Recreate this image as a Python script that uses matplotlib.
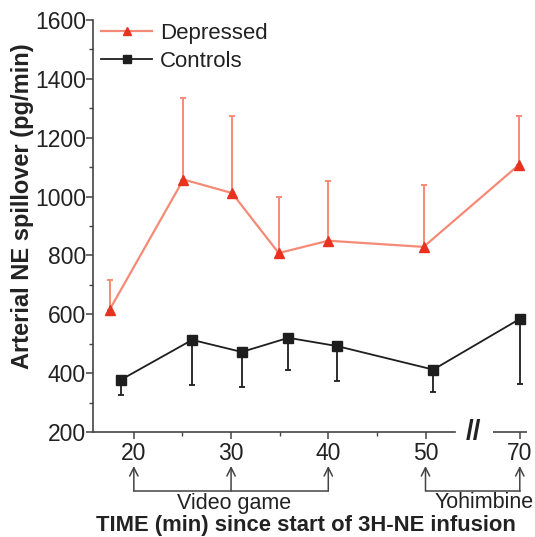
import numpy as np
import matplotlib
matplotlib.use("Agg")
import matplotlib.pyplot as plt
from matplotlib.ticker import MultipleLocator, FixedLocator

plt.rcParams['font.family'] = ['Liberation Sans', 'DejaVu Sans']

# ---- data ----
dep_time = [17.5, 25.1, 30.1, 34.9, 40.0, 49.8, 69.7]
dep_mean = [615, 1058, 1012, 808, 850, 829, 1107]
dep_upper = [717, 1335, 1274, 999, 1053, 1039, 1274]

ctl_time = [18.7, 26.0, 31.1, 35.9, 40.9, 50.8, 70.1]
ctl_mean = [378, 513, 472, 520, 492, 412, 585]
ctl_lower = [326, 360, 353, 411, 373, 336, 363]

xtick_major = [20, 30, 40, 50, 70]
xtick_minor = [25, 35, 45]
yticks = [200, 400, 600, 800, 1000, 1200, 1400, 1600]

# ---- broken axis scale ----
BRK = 53.0
K = 0.394

def fwd(x):
    x = np.asarray(x, dtype=float)
    return np.where(x <= BRK, x, BRK + (x - BRK) * K)

def inv(y):
    y = np.asarray(y, dtype=float)
    return np.where(y <= BRK, y, BRK + (y - BRK) / K)

DEP_LINE = '#f58a76'
DEP_MARK = '#e8311f'
CTL = '#1e1e1e'
AX = '#444444'
TXT = '#222222'

fig = plt.figure(figsize=(5.35, 5.37), dpi=100)
ax = fig.add_axes([93/535, 1-432/537, (528.6-93)/535, 412/537])
ax.set_xscale('function', functions=(fwd, inv))

dep_err = [np.zeros(len(dep_mean)), np.array(dep_upper) - np.array(dep_mean)]
ctl_err = [np.array(ctl_mean) - np.array(ctl_lower), np.zeros(len(ctl_mean))]

ax.errorbar(dep_time, dep_mean, yerr=dep_err, fmt='none', ecolor=DEP_LINE,
            elinewidth=1.4, capsize=2.5, capthick=1.4, zorder=2)
ax.plot(dep_time, dep_mean, color=DEP_LINE, lw=1.6, zorder=3)
ax.plot(dep_time, dep_mean, ls='none', marker='^', ms=7, color=DEP_MARK,
        mec=DEP_MARK, zorder=4)
ax.plot([], [], color=DEP_LINE, lw=1.6, marker='^', ms=6, mfc=DEP_MARK,
        mec=DEP_MARK, label='Depressed')

ax.errorbar(ctl_time, ctl_mean, yerr=ctl_err, fmt='none', ecolor=CTL,
            elinewidth=1.3, capsize=2.5, capthick=1.3, zorder=2)
ax.plot(ctl_time, ctl_mean, color=CTL, lw=1.3, marker='s', ms=6.5,
        mfc=CTL, mec=CTL, zorder=4)
ax.plot([], [], color=CTL, lw=1.3, marker='s', ms=5.5, mfc=CTL, mec=CTL,
        label='Controls')

ax.set_ylim(200, 1600)
ax.set_xlim(15.8, 72.3)
ax.yaxis.set_major_locator(FixedLocator(yticks))
ax.yaxis.set_minor_locator(MultipleLocator(100))
ax.xaxis.set_major_locator(FixedLocator(xtick_major))
ax.xaxis.set_minor_locator(FixedLocator(xtick_minor))

for s in ['top', 'right']:
    ax.spines[s].set_visible(False)
for s in ['left', 'bottom']:
    ax.spines[s].set_color(AX)
    ax.spines[s].set_linewidth(1.2)
ax.spines['bottom'].set_bounds(15.8, BRK)

ax.tick_params(axis='both', which='major', direction='out', length=5,
               width=1.1, color=AX, labelsize=16.5, labelcolor=TXT)
ax.tick_params(axis='both', which='minor', direction='out', length=3,
               width=1.0, color=AX)
ax.tick_params(axis='x', which='major', pad=2)
ax.tick_params(axis='y', which='major', pad=0)

# second bottom segment after break
ax.plot([62.9, 71.8], [200, 200], color=AX, lw=1.2, clip_on=False,
        solid_capstyle='butt')
ax.text(58.0, 200, '//', ha='center', va='center', fontsize=20,
        fontweight='bold', color=TXT, clip_on=False)

ax.set_ylabel('Arterial NE spillover (pg/min)', fontsize=17,
              fontweight='bold', color=TXT)
ax.yaxis.set_label_coords((34 - 93) / 435.6, (432 - 206) / 412.0)

# annotations below axis
tr = ax.get_xaxis_transform()
def yfrac(py):
    return (432 - py) / 412.0

arrow_kw = dict(arrowstyle='->,head_length=0.6,head_width=0.3', color=AX,
                lw=1.1, shrinkA=0, shrinkB=0)
for xv in xtick_major:
    ax.annotate('', xy=(xv, yfrac(466)), xytext=(xv, yfrac(491)),
                xycoords=tr, textcoords=tr, arrowprops=arrow_kw,
                annotation_clip=False)
for a, b in [(20, 40), (50, 70)]:
    ax.plot([a, b], [yfrac(491), yfrac(491)], transform=tr, color=AX,
            lw=1.1, clip_on=False)

ax.text(30.3, yfrac(503), 'Video game', transform=tr, ha='center', va='center',
        fontsize=15.5, color=TXT)
ax.text(60.8, yfrac(503), 'Yohimbine', transform=tr, ha='center', va='center',
        fontsize=15.5, color=TXT)
fig.text(306/535, 1-525/537, 'TIME (min) since start of 3H-NE infusion',
         ha='center', va='center', fontsize=15.8, fontweight='bold',
         color=TXT)

leg = ax.legend(loc='upper left', bbox_to_anchor=(-0.012, 1.025), frameon=False,
                fontsize=16, handlelength=2.3, handletextpad=0.35,
                labelspacing=0.3, borderaxespad=0.2)
for t in leg.get_texts():
    t.set_color(TXT)

fig.savefig('out.png', dpi=100)
